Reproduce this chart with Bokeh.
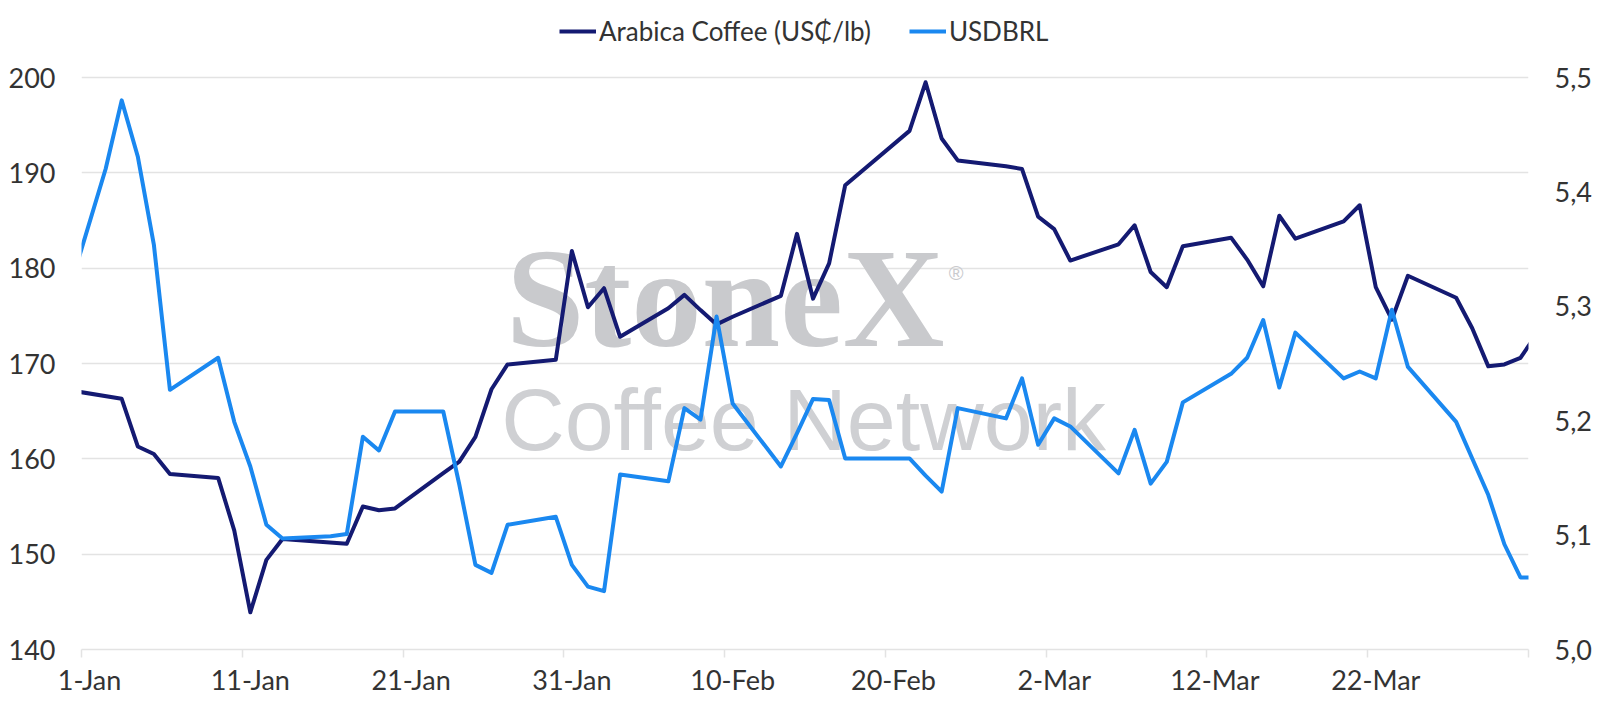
from bokeh.plotting import figure
from bokeh.models import (Range1d, LinearAxis, FixedTicker, CustomJSTickFormatter,
                          Legend, LegendItem, Label)
from bokeh.embed import file_html
from bokeh.resources import INLINE
import pandas as pd

# ---------------- data ----------------
kc_dates = ["2022-12-30", "2023-01-03", "2023-01-04", "2023-01-05", "2023-01-06",
            "2023-01-09", "2023-01-10", "2023-01-11", "2023-01-12", "2023-01-13",
            "2023-01-17", "2023-01-18", "2023-01-19", "2023-01-20", "2023-01-23",
            "2023-01-24", "2023-01-25", "2023-01-26", "2023-01-27", "2023-01-30",
            "2023-01-31", "2023-02-01", "2023-02-02", "2023-02-03", "2023-02-06",
            "2023-02-07", "2023-02-08", "2023-02-09", "2023-02-10", "2023-02-13",
            "2023-02-14", "2023-02-15", "2023-02-16", "2023-02-17", "2023-02-21",
            "2023-02-22", "2023-02-23", "2023-02-24", "2023-02-27", "2023-02-28",
            "2023-03-01", "2023-03-02", "2023-03-03", "2023-03-06", "2023-03-07",
            "2023-03-08", "2023-03-09", "2023-03-10", "2023-03-13", "2023-03-14",
            "2023-03-15", "2023-03-16", "2023-03-17", "2023-03-20", "2023-03-21",
            "2023-03-22", "2023-03-23", "2023-03-24", "2023-03-27", "2023-03-28",
            "2023-03-29", "2023-03-30", "2023-03-31", "2023-04-03"]
kc_values = [167.4, 166.3, 161.3, 160.5, 158.4,
             158.0, 152.5, 143.9, 149.4, 151.6,
             151.1, 155.0, 154.6, 154.8, 158.5,
             159.7, 162.3, 167.3, 169.9, 170.4,
             181.8, 175.9, 177.9, 172.8, 175.8,
             177.2, 175.6, 174.1, 174.9, 177.1,
             183.6, 176.8, 180.5, 188.7, 194.4,
             199.5, 193.6, 191.3, 190.7, 190.4,
             185.4, 184.1, 180.8, 182.5, 184.5,
             179.6, 178.0, 182.3, 183.2, 180.9,
             178.1, 185.5, 183.1, 184.9, 186.6,
             178.0, 174.6, 179.2, 176.9, 173.7,
             169.7, 169.9, 170.6, 178.0]

brl_dates = ["2022-12-30", "2023-01-02", "2023-01-03", "2023-01-04", "2023-01-05",
             "2023-01-06", "2023-01-09", "2023-01-10", "2023-01-11", "2023-01-12",
             "2023-01-13", "2023-01-16", "2023-01-17", "2023-01-18", "2023-01-19",
             "2023-01-20", "2023-01-23", "2023-01-24", "2023-01-25", "2023-01-26",
             "2023-01-27", "2023-01-30", "2023-01-31", "2023-02-01", "2023-02-02",
             "2023-02-03", "2023-02-06", "2023-02-07", "2023-02-08", "2023-02-09",
             "2023-02-10", "2023-02-13", "2023-02-14", "2023-02-15", "2023-02-16",
             "2023-02-17", "2023-02-20", "2023-02-21", "2023-02-22", "2023-02-23",
             "2023-02-24", "2023-02-27", "2023-02-28", "2023-03-01", "2023-03-02",
             "2023-03-03", "2023-03-06", "2023-03-07", "2023-03-08", "2023-03-09",
             "2023-03-10", "2023-03-13", "2023-03-14", "2023-03-15", "2023-03-16",
             "2023-03-17", "2023-03-20", "2023-03-21", "2023-03-22", "2023-03-23",
             "2023-03-24", "2023-03-27", "2023-03-28", "2023-03-29", "2023-03-30",
             "2023-03-31", "2023-04-03"]
brl_values = [5.280, 5.420, 5.480, 5.431, 5.354,
              5.227, 5.255, 5.199, 5.160, 5.109,
              5.097, 5.099, 5.101, 5.186, 5.174,
              5.208, 5.208, 5.144, 5.074, 5.067,
              5.109, 5.116, 5.074, 5.055, 5.051,
              5.153, 5.147, 5.211, 5.201, 5.291,
              5.215, 5.160, 5.189, 5.219, 5.218,
              5.167, 5.167, 5.167, 5.152, 5.138,
              5.211, 5.202, 5.237, 5.179, 5.202,
              5.195, 5.154, 5.192, 5.145, 5.164,
              5.216, 5.241, 5.255, 5.288, 5.229,
              5.277, 5.237, 5.243, 5.237, 5.297,
              5.247, 5.199, 5.167, 5.135, 5.092,
              5.063, 5.063]

tick_dates = ["2023-01-01", "2023-01-11", "2023-01-21", "2023-01-31", "2023-02-10",
              "2023-02-20", "2023-03-02", "2023-03-12", "2023-03-22", "2023-04-01"]
tick_labels = ["1-Jan", "11-Jan", "21-Jan", "31-Jan", "10-Feb",
               "20-Feb", "2-Mar", "12-Mar", "22-Mar", ""]
left_ticks = [140, 150, 160, 170, 180, 190, 200]
right_ticks = [5.0, 5.1, 5.2, 5.3, 5.4, 5.5]

series_names = ["Arabica Coffee (US\u20b5/lb)", "USDBRL"]
DARK = "#141a72"
LIGHT = "#1a88f0"
TEXT = "#333333"
GRID = "#e3e3e3"
FONT = "Lato"
TICK_SIZE = "27px"

BASE = pd.Timestamp(tick_dates[0])


def day_offset(ds):
    return [float(v) for v in (pd.to_datetime(ds) - BASE) / pd.Timedelta(days=1)]


kc_x = [d + 0.5 for d in day_offset(kc_dates)]      # each date plotted mid-slot
brl_x = [d + 0.5 for d in day_offset(brl_dates)]
bounds = day_offset(tick_dates)                        # slot boundaries (tick marks)
label_pos = [b + 0.5 for b in bounds[:-1]]             # labels centred in slot

# ---------------- layout ----------------
W, H = 1600, 709
B_LEFT, B_RIGHT, B_BOTTOM = 81, 72, 60
AXIS_TOP_PX = 77            # pixel row of the top gridline (200 / 5,5)
plot_h = H - B_BOTTOM - AXIS_TOP_PX
head_px = AXIS_TOP_PX       # frame extends to the top so the legend fits inside it
l_lo, l_hi = left_ticks[0], left_ticks[-1]
r_lo, r_hi = right_ticks[0], right_ticks[-1]
l_end = l_hi + head_px * (l_hi - l_lo) / plot_h
r_end = r_hi + head_px * (r_hi - r_lo) / plot_h

p = figure(width=W, height=H, output_backend="svg", toolbar_location=None,
           x_range=Range1d(bounds[0], bounds[-1]),
           y_range=Range1d(l_lo, l_end),
           min_border_left=B_LEFT, min_border_right=B_RIGHT,
           min_border_top=0, min_border_bottom=B_BOTTOM)
p.outline_line_color = None
p.background_fill_color = "white"
p.border_fill_color = "white"
p.extra_y_ranges = {"brl": Range1d(r_lo, r_end)}

# grid
p.xgrid.visible = False
p.ygrid.ticker = FixedTicker(ticks=left_ticks)
p.ygrid.grid_line_color = GRID
p.ygrid.grid_line_width = 1.5

# watermark
wm_color = "#c9cacd"
p.add_layout(Label(x=26.4, y=176.9, text="StoneX", text_font="Liberation Serif",
                   text_font_style="bold", text_font_size="141px",
                   text_color=wm_color, text_baseline="alphabetic",
                   text_align="left", level="underlay"))
p.add_layout(Label(x=54.4, y=179.5, text="\u00ae", text_font="Liberation Sans",
                   text_font_size="20px", text_color=wm_color,
                   text_baseline="middle", text_align="center", level="underlay"))
p.add_layout(Label(x=26.1, y=164.1, text="Coffee Network", text_font="Liberation Sans",
                   text_font_size="88px", text_color="#cfd0d3",
                   text_baseline="alphabetic", text_align="left", level="underlay"))

# lines
r1 = p.line(kc_x, kc_values, line_color=DARK, line_width=4, line_join="round")
r2 = p.line(brl_x, brl_values, line_color=LIGHT, line_width=4, line_join="round",
            y_range_name="brl")

# x axis
xa = p.xaxis[0]
xa.ticker = FixedTicker(ticks=label_pos, minor_ticks=bounds)
xa.formatter = CustomJSTickFormatter(args=dict(labels=tick_labels, pos=label_pos), code="""
    let best = 0, bd = 1e9;
    for (let i = 0; i < pos.length; i++) {
        const d = Math.abs(pos[i] - tick);
        if (d < bd) { bd = d; best = i; }
    }
    return labels[best];
""")
xa.major_tick_out = 0
xa.major_tick_in = 0
xa.minor_tick_out = 8
xa.minor_tick_in = 0
xa.minor_tick_line_color = GRID
xa.minor_tick_line_width = 1.5
xa.axis_line_color = GRID
xa.axis_line_width = 1.5
xa.major_label_standoff = 5
xa.major_label_text_font = FONT
xa.major_label_text_font_size = TICK_SIZE
xa.major_label_text_color = TEXT

# left axis
ya = p.yaxis[0]
ya.ticker = FixedTicker(ticks=left_ticks)
ya.axis_line_color = None
ya.major_tick_line_color = None
ya.minor_tick_line_color = None
ya.major_tick_out = 0
ya.major_label_standoff = 26
ya.major_label_text_font = FONT
ya.major_label_text_font_size = TICK_SIZE
ya.major_label_text_color = TEXT

# right axis
ra = LinearAxis(y_range_name="brl", ticker=FixedTicker(ticks=right_ticks),
                formatter=CustomJSTickFormatter(code="return tick.toFixed(1).replace('.', ',');"))
ra.axis_line_color = None
ra.major_tick_line_color = None
ra.minor_tick_line_color = None
ra.major_tick_out = 0
ra.major_label_standoff = 26
ra.major_label_text_font = FONT
ra.major_label_text_font_size = TICK_SIZE
ra.major_label_text_color = TEXT
p.add_layout(ra, "right")

# legend (inside the extended frame, above the top gridline)
legend = Legend(items=[LegendItem(label=series_names[0], renderers=[r1]),
                       LegendItem(label=series_names[1], renderers=[r2])],
                location=(478, 602), orientation="horizontal",
                label_text_font=FONT, label_text_font_size="26px",
                label_text_color=TEXT, glyph_width=37, glyph_height=24,
                label_standoff=3, spacing=38, padding=0, margin=0,
                border_line_color=None, background_fill_alpha=0)
p.add_layout(legend)

open("out.html", "w").write(file_html(p, INLINE))
